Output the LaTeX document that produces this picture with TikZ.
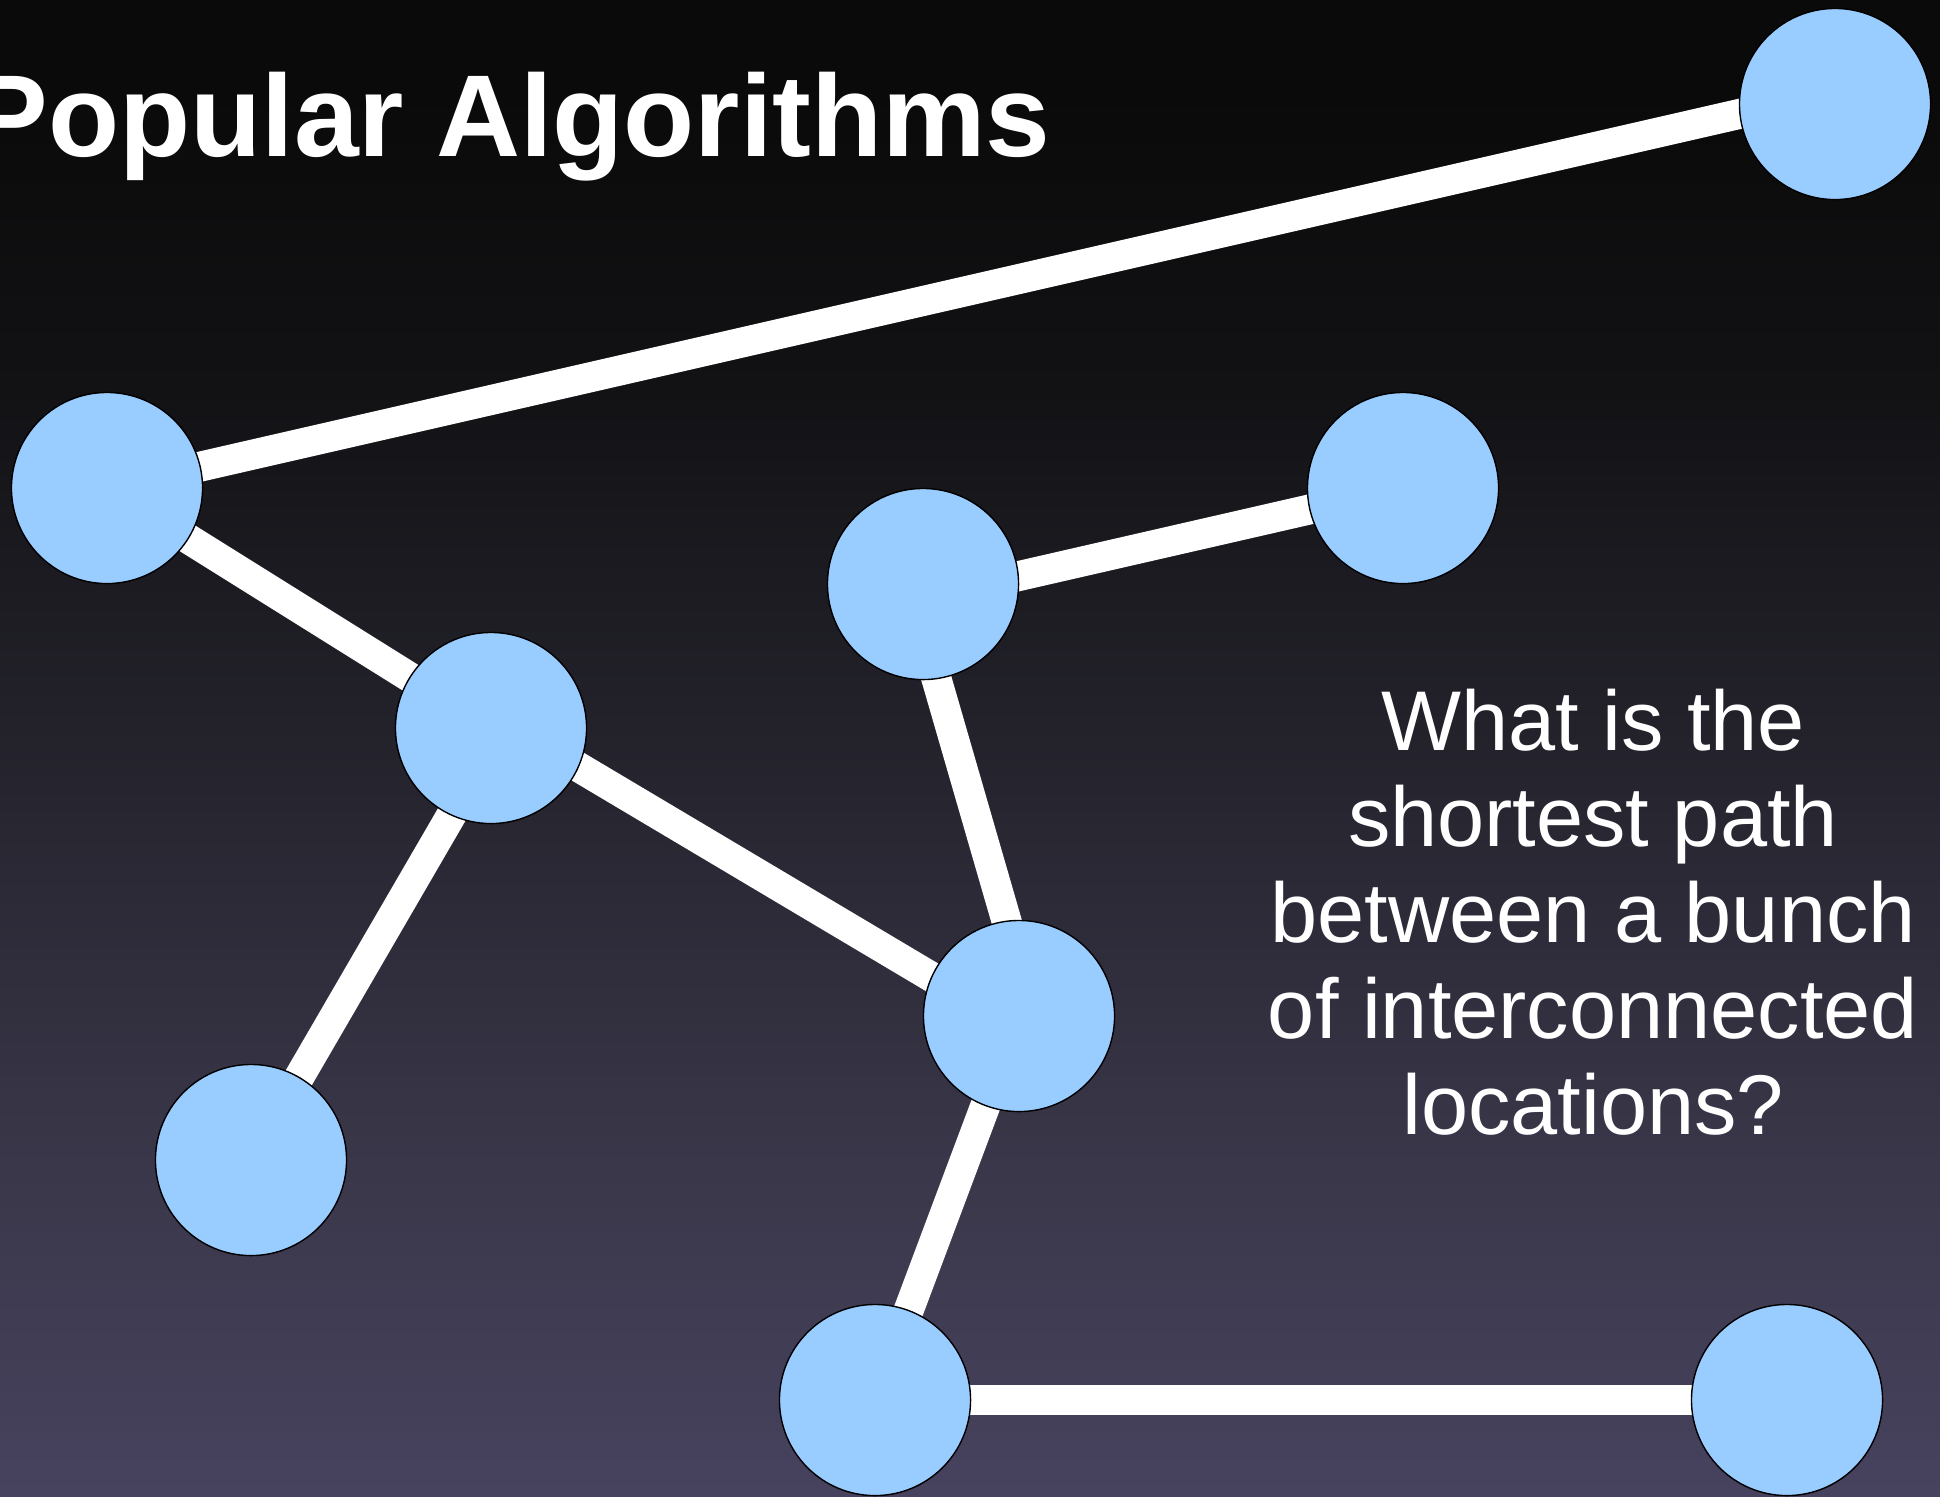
\documentclass[tikz,border=0pt]{standalone}
\usepackage{fontspec}
\setmainfont{Liberation Sans}
\usetikzlibrary{calc}
\pgfdeclarelayer{backdrop}
\pgfdeclarelayer{roads}
\pgfsetlayers{backdrop,roads,main}
\definecolor{sky_top}{RGB}{10,10,10}
\definecolor{sky_upper}{RGB}{18,18,21}
\definecolor{sky_middle}{RGB}{36,35,44}
\definecolor{sky_lower}{RGB}{58,55,74}
\definecolor{sky_bottom}{RGB}{71,66,94}
\pgfdeclareverticalshading{sky}{100bp}{color(0bp)=(sky_bottom); color(25bp)=(sky_bottom);
    color(36bp)=(sky_lower); color(50bp)=(sky_middle); color(62bp)=(sky_upper);
    color(72bp)=(sky_top); color(100bp)=(sky_top)}

\begin{document}
\begin{tikzpicture}[x=0.01cm, y=-0.01cm,
        stop/.style={circle, fill=stop_blue, draw=black, line width=0.4pt, minimum size=1.91cm, inner sep=0pt},
        road/.style={white, line width=0.3cm}]
        \definecolor{stop_blue}{RGB}{153,204,255}
        \useasboundingbox (0,0) rectangle (1940,1496);
        % background
        \begin{pgfonlayer}{backdrop}
            \shade[shading=sky] (0,0) rectangle (1940,1496);
        \end{pgfonlayer}
        % title
        \node[anchor=base west, text=white, inner sep=0pt, font=\bfseries\fontsize{33.1}{38}\selectfont] (title) at (-30,156) {Popular Algorithms};
        % locations
        \node[stop] (far) at (1835,104) {};
        \node[stop] (west) at (107,488) {};
        \node[stop] (east) at (1403,488) {};
        \node[stop] (north) at (923,584) {};
        \node[stop] (hub) at (491,728) {};
        \node[stop] (mid) at (1019,1016) {};
        \node[stop] (south) at (251,1160) {};
        \node[stop] (dock) at (875,1400) {};
        \node[stop] (pier) at (1787,1400) {};
        % roads between them
        \begin{pgfonlayer}{roads}
            \draw[road] (west.center) -- ($(far.center)+(0,-12)$);
            \draw[road] ($(north.center)+(0,14)$) -- (east.center);
            \draw[road] ($(north.center)+(-14,0)$) -- ($(mid.center)+(15,0)$);
            \draw[road] ($(hub.center)+(0,-13)$) -- ($(mid.center)+(0,13)$);
            \draw[road] (west.center) -- (hub.center);
            \draw[road] ($(hub.center)+(11,0)$) -- (south.center);
            \draw[road] (mid.center) -- (dock.center);
            \draw[road] (dock.center) -- (pier.center);
        \end{pgfonlayer}
        % question
        \node[anchor=north, align=center, text=white, inner sep=0pt, font=\fontsize{24.1}{27.3}\selectfont] (question) at (1593,688) {What is the\\shortest path\\between a bunch\\of interconnected\\locations?};
    \end{tikzpicture}
\end{document}
